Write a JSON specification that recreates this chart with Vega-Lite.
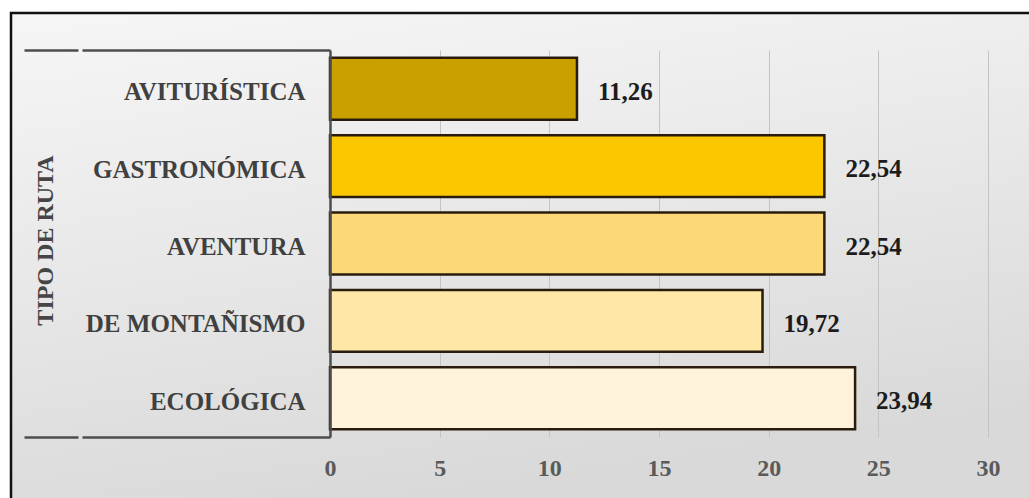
{
  "$schema": "https://vega.github.io/schema/vega-lite/v6.json",
  "width": 1030,
  "height": 497,
  "autosize": "none",
  "padding": {"left": 11, "top": 13, "right": -12, "bottom": -12},
  "background": "#ffffff",
  "config": {
    "locale": {
      "number": {"decimal": ",", "thousands": ".", "grouping": [3], "currency": ["", " €"]}
    },
    "font": "Liberation Serif",
    "view": {
      "stroke": "#111111",
      "strokeWidth": 2.5,
      "fill": {"expr": "{gradient: 'linear', x1: 0, y1: 0, x2: 0.3, y2: 1, stops: [{offset: 0, color: '#f6f6f6'}, {offset: 0.5, color: '#e8e8e8'}, {offset: 1, color: '#d9d9d9'}]}"}
    }
  },
  "data": {
    "values": [
      {"tipo": "AVITURÍSTICA", "porcentaje": 11.26},
      {"tipo": "GASTRONÓMICA", "porcentaje": 22.54},
      {"tipo": "AVENTURA", "porcentaje": 22.54},
      {"tipo": "DE MONTAÑISMO", "porcentaje": 19.72},
      {"tipo": "ECOLÓGICA", "porcentaje": 23.94}
    ]
  },
  "encoding": {
    "y": {
      "field": "tipo",
      "type": "nominal",
      "sort": null,
      "scale": {"range": [37, 424], "paddingInner": 0, "paddingOuter": 0},
      "axis": {
        "title": "TIPO DE RUTA",
        "titleFont": "Liberation Serif",
        "titleFontSize": 24,
        "titleFontWeight": "bold",
        "titleColor": "#454545",
        "titleAngle": -90,
        "titleAlign": "center",
        "titleBaseline": "middle",
        "titleX": -285,
        "titleY": 227,
        "offset": -319,
        "domain": true,
        "domainColor": "#4d4d4d",
        "domainWidth": 2.5,
        "ticks": true,
        "tickBand": "extent",
        "tickSize": 306,
        "tickColor": "#4d4d4d",
        "tickWidth": 2.5,
        "tickDash": [248, 4, 60, 4],
        "tickOpacity": {"condition": {"test": "datum.extra || datum.index === -1 || datum.value === 'ECOLÓGICA'", "value": 1}, "value": 0},
        "labelPadding": -281,
        "labelLimit": 400,
        "labelFont": "Liberation Serif",
        "labelFontSize": 25,
        "labelFontWeight": "bold",
        "labelColor": "#404040",
        "labelBaseline": "middle",
        "labelOffset": 3,
        "grid": false,
        "zindex": 2
      }
    },
    "x": {
      "field": "porcentaje",
      "type": "quantitative",
      "scale": {"domain": [0, 30], "range": [319, 977], "nice": false, "zero": true},
      "axis": {
        "orient": "top",
        "title": null,
        "values": [0, 5, 10, 15, 20, 25, 30],
        "domain": false,
        "ticks": false,
        "grid": true,
        "gridColor": "#c4c4c4",
        "gridWidth": 1,
        "labelPadding": -455,
        "labelBaseline": "middle",
        "labelFont": "Liberation Serif",
        "labelFontSize": 24,
        "labelFontWeight": "bold",
        "labelColor": "#5a5a5a",
        "labelFlush": false,
        "zindex": 0
      }
    }
  },
  "layer": [
    {
      "mark": {"type": "bar", "height": {"band": 0.8}, "stroke": "#2a1c0c", "strokeWidth": 2.5},
      "encoding": {
        "color": {
          "field": "tipo",
          "type": "nominal",
          "legend": null,
          "scale": {
            "domain": ["AVITURÍSTICA", "GASTRONÓMICA", "AVENTURA", "DE MONTAÑISMO", "ECOLÓGICA"],
            "range": ["#c9a000", "#fbc800", "#fdd878", "#fee7a7", "#fff3db"]
          }
        }
      }
    },
    {
      "mark": {
        "type": "text",
        "align": "left",
        "baseline": "middle",
        "dx": 21,
        "dy": 3,
        "font": "Liberation Serif",
        "fontSize": 25,
        "fontWeight": "bold",
        "color": "#1c1c1c"
      },
      "encoding": {
        "text": {"field": "porcentaje", "type": "quantitative", "format": ".2f"}
      }
    }
  ]
}
